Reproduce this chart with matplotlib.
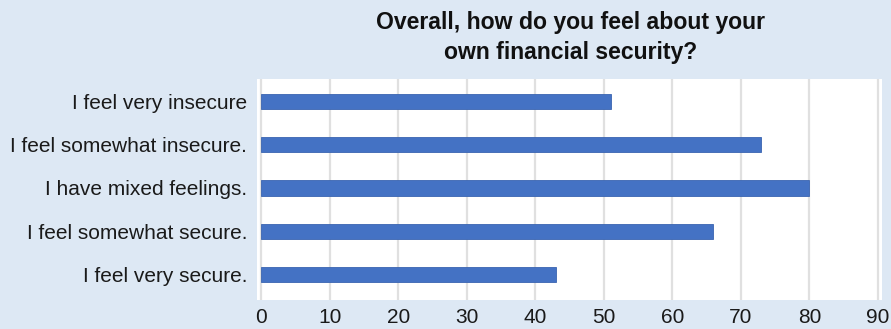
import matplotlib
matplotlib.use("Agg")
import matplotlib.pyplot as plt

categories = ["I feel very insecure", "I feel somewhat insecure.", "I have mixed feelings.",
              "I feel somewhat secure.", "I feel very secure."]
values = [51, 73, 80, 66, 43]
xticks = [0, 10, 20, 30, 40, 50, 60, 70, 80, 90]
title = "Overall, how do you feel about your\nown financial security?"

plt.rcParams['font.family'] = ['Liberation Sans', 'DejaVu Sans']

bg = "#dde8f4"
fig = plt.figure(figsize=(8.91, 3.29), dpi=100, facecolor=bg)
ax = fig.add_axes([257/891, 29/329, 625/891, 221/329])
ax.set_facecolor("white")

pos = list(range(len(categories)))
ax.barh(pos, values, height=0.35, color="#4472c4", edgecolor="#3a64b0", linewidth=0.6, zorder=3)
ax.set_yticks(pos)
ax.set_yticklabels(categories, fontsize=15, color="#1a1a1a")
ax.set_ylim(4.6, -0.53)
ax.set_xlim(-0.6, 90.6)
ax.set_xticks(xticks)
ax.set_xticklabels([str(t) for t in xticks], fontsize=15, color="#1a1a1a")
ax.tick_params(axis='both', length=0)
ax.tick_params(axis='y', pad=7)
ax.tick_params(axis='x', pad=6)
ax.grid(axis='x', color="#e0e0e0", linewidth=1.6, zorder=0)
for s in ax.spines.values():
    s.set_visible(False)

fig.text(571/891, 1 - 37.5/329, title, ha='center', va='center', fontsize=16.6,
         fontweight='bold', linespacing=1.35, color="#111111")

fig.savefig("out.png", dpi=100, facecolor=bg)
